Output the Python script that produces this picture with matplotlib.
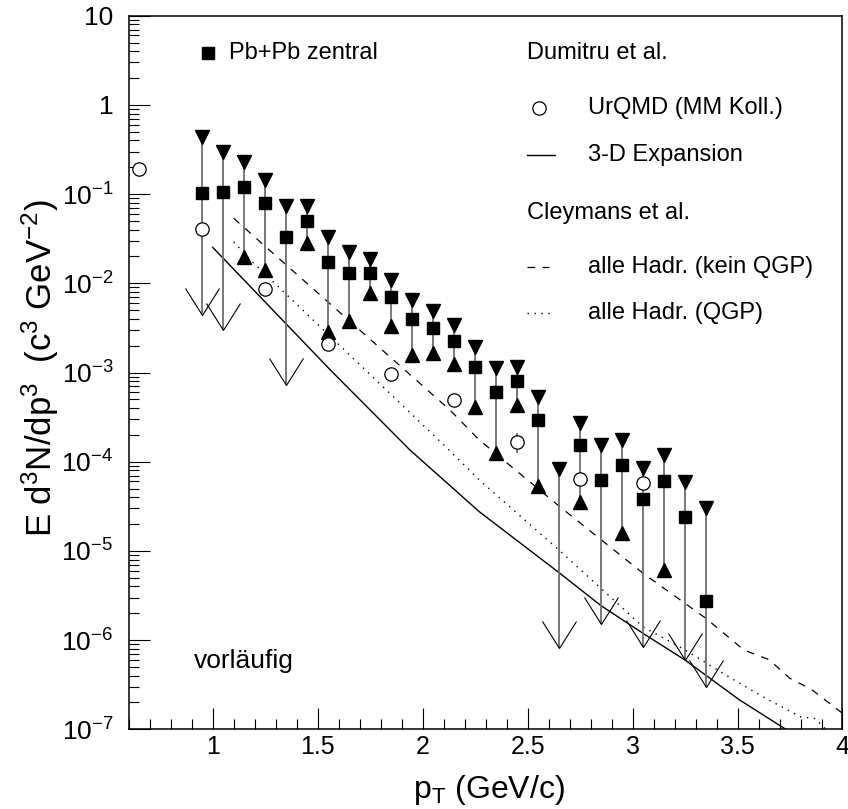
import numpy as np
import matplotlib
matplotlib.use("Agg")
import matplotlib.pyplot as plt
from matplotlib.path import Path
from matplotlib.ticker import FixedLocator, MultipleLocator, LogLocator, FuncFormatter, NullFormatter

plt.rcParams['font.family'] = ['Liberation Sans', 'DejaVu Sans']
plt.rcParams['mathtext.fontset'] = 'custom'
plt.rcParams['mathtext.rm'] = 'Liberation Sans'
plt.rcParams['mathtext.it'] = 'Liberation Sans:italic'
plt.rcParams['mathtext.bf'] = 'Liberation Sans:bold'
plt.rcParams['lines.scale_dashes'] = False

# ---- Pb+Pb central: invariant yield with upper / lower error ends ----
pt = [0.95, 1.05, 1.15, 1.25, 1.35, 1.45, 1.55, 1.65, 1.75, 1.85,
      1.95, 2.05, 2.15, 2.25, 2.35, 2.45, 2.55, 2.65, 2.75, 2.85,
      2.95, 3.05, 3.15, 3.25, 3.35]
yield_pbpb = [0.102, 0.106, 0.121, 0.079, 0.0333, 0.0503, 0.0175, 0.0129, 0.0129, 0.00708,
              0.00395, 0.00318, 0.00227, 0.00116, 6.10e-4, 8.04e-4, 2.91e-4, np.nan, 1.54e-4, 6.24e-5,
              9.18e-5, 3.82e-5, 6.08e-5, 2.42e-5, 2.74e-6]
yield_hi = [0.440, 0.299, 0.231, 0.144, 0.0736, 0.0736, 0.0328, 0.0226, 0.0186, 0.0109,
            0.00650, 0.00493, 0.00340, 0.00195, 1.11e-3, 1.16e-3, 5.36e-4, 8.22e-5, 2.74e-4, 1.54e-4,
            1.75e-4, 8.43e-5, 1.19e-4, 5.97e-5, 3.01e-5]
yield_lo = [4.42e-3, 2.99e-3, 0.0195, 0.0141, 7.24e-4, 0.0285, 2.87e-3, 3.81e-3, 7.73e-3, 3.32e-3,
            1.57e-3, 1.64e-3, 1.24e-3, 4.07e-4, 1.24e-4, 4.32e-4, 5.35e-5, 8.09e-7, 3.56e-5, 1.51e-6,
            1.57e-5, 8.43e-7, 6.11e-6, 5.98e-7, 3.01e-7]
# lower end is only a limit (drawn as an open arrow)
lo_is_limit = [True, True, False, False, True, False, False, False, False, False,
               False, False, False, False, False, False, False, True, False, True,
               False, True, False, True, True]

# ---- UrQMD (MM Koll.) ----
pt_urqmd = [0.65, 0.95, 1.25, 1.55, 1.85, 2.15, 2.45, 2.75, 3.05]
yield_urqmd = [0.190, 0.0403, 8.67e-3, 2.07e-3, 9.62e-4, 4.92e-4, 1.67e-4, 6.40e-5, 5.82e-5]
urqmd_err_pt = [2.45]
urqmd_err_lo = [1.24e-4]
urqmd_err_hi = [2.08e-4]

# ---- Dumitru et al.: 3-D expansion ----
pt_3d = [1.00, 1.18, 1.56, 1.94, 2.27, 2.65, 2.85, 3.05, 3.25, 3.51, 3.73]
yield_3d = [2.53e-2, 9.16e-3, 1.07e-3, 1.35e-4, 2.75e-5, 5.70e-6, 2.43e-6, 1.19e-6, 5.98e-7, 2.13e-7, 1.0e-7]

# ---- Cleymans et al.: all hadrons, no QGP ----
pt_noqgp = [1.10, 1.27, 2.13, 2.27, 2.65, 3.05, 3.35, 3.53, 3.65, 3.75, 3.85, 4.00]
yield_noqgp = [5.36e-2, 2.36e-2, 3.80e-4, 1.75e-4, 3.18e-5, 5.61e-6, 1.75e-6, 7.76e-7, 6.03e-7,
               3.72e-7, 2.82e-7, 1.51e-7]

# ---- Cleymans et al.: all hadrons, QGP ----
pt_qgp = [1.10, 1.18, 2.11, 2.27, 2.65, 3.05, 3.25, 3.45, 3.62, 3.72, 3.80, 3.87, 3.92]
yield_qgp = [2.92e-2, 1.82e-2, 1.47e-4, 6.24e-5, 1.02e-5, 1.41e-6, 7.76e-7, 3.98e-7, 2.32e-7,
             1.74e-7, 1.38e-7, 1.32e-7, 1.0e-7]

x_major = [1.0, 1.5, 2.0, 2.5, 3.0, 3.5, 4.0]
x_labels = ["1", "1.5", "2", "2.5", "3", "3.5", "4"]

fig = plt.figure(figsize=(8.48, 8.09), dpi=100)
ax = fig.add_axes([0.15177, 0.09852, 0.84174, 0.88207])
ax.set_yscale('log')
ax.set_xlim(0.6, 4.0)
ax.set_ylim(1e-7, 10)

# model curves
ax.plot(pt_3d, yield_3d, color='black', lw=1.0, zorder=2)
ax.plot(pt_noqgp, yield_noqgp, color='black', lw=0.9, linestyle=(0, (5.5, 5.5)), zorder=2)
ax.plot(pt_qgp, yield_qgp, color='black', lw=1.0, linestyle=(0, (1.0, 4.0)), zorder=2)

# error bars of the measurement
pt_a = np.array(pt)
ax.vlines(pt_a, yield_lo, yield_hi, color='#6e6e6e', lw=1.3, zorder=3)
ax.vlines(urqmd_err_pt, urqmd_err_lo, urqmd_err_hi, color='#6e6e6e', lw=1.3, zorder=3)

lim = np.array(lo_is_limit)
lo_a = np.array(yield_lo)
hi_a = np.array(yield_hi)

# open arrow head (tip at the anchor point)
arrow_head = Path([(-17, 27), (0, 0), (17, 27)], [Path.MOVETO, Path.LINETO, Path.LINETO])
ax.plot(pt_a[lim], lo_a[lim], linestyle='none', marker=arrow_head, markersize=38.9,
        markerfacecolor='none', markeredgecolor='black', markeredgewidth=0.8, zorder=4)
ax.plot(pt_a[~lim], lo_a[~lim], linestyle='none', marker='^', markersize=9.5,
        color='black', zorder=4)
ax.plot(pt_a, hi_a, linestyle='none', marker='v', markersize=9.5, color='black', zorder=4)
ax.plot(pt, yield_pbpb, linestyle='none', marker='s', markersize=9, color='black', zorder=5)
ax.plot(pt_urqmd, yield_urqmd, linestyle='none', marker='o', markersize=9.6,
        markerfacecolor='white', markeredgecolor='black', markeredgewidth=0.9, zorder=6)

# axes styling
for sp in ax.spines.values():
    sp.set_linewidth(1.1)
ax.xaxis.set_major_locator(FixedLocator(x_major))
ax.xaxis.set_major_formatter(FuncFormatter(lambda v, p: x_labels[x_major.index(round(v, 1))]))
ax.xaxis.set_minor_locator(MultipleLocator(0.1))
ax.yaxis.set_major_locator(LogLocator(base=10, numticks=20))
ax.yaxis.set_minor_locator(LogLocator(base=10, subs=np.arange(2, 10), numticks=20))
ax.yaxis.set_minor_formatter(NullFormatter())


def ylab(v, p):
    e = int(round(np.log10(v)))
    if e == 1:
        return "10"
    if e == 0:
        return "1"
    return r"$10^{%d}$" % e


ax.yaxis.set_major_formatter(FuncFormatter(ylab))
ax.tick_params(which='both', direction='in', top=False, right=False, width=0.8)
ax.tick_params(which='major', length=15)
ax.tick_params(which='minor', length=7.5)
ax.tick_params(axis='x', pad=4, labelsize=18)
ax.tick_params(axis='y', pad=11, labelsize=19)

fig.text(0.5767, 0.0235, r"p$_{\mathrm{T}}$ (GeV/c)", ha='center', va='center', fontsize=23)
fig.text(0.0472, 0.545, r"E d$^{3}$N/dp$^{3}$  (c$^{3}$ GeV$^{-2}$)", ha='center', va='center',
         rotation=90, fontsize=25)

# legend block
T = ax.transAxes
ax.plot([0.1117], [0.9473], marker='s', markersize=9, color='black', transform=T, clip_on=False)
ax.text(0.1401, 0.9473, "Pb+Pb zentral", transform=T, fontsize=17, va='center', ha='left')
ax.text(0.5574, 0.9473, "Dumitru et al.", transform=T, fontsize=17, va='center', ha='left')
ax.plot([0.5752], [0.8702], marker='o', markersize=9.6, markerfacecolor='white',
        markeredgecolor='black', markeredgewidth=0.9, transform=T, clip_on=False)
ax.text(0.6435, 0.8702, "UrQMD (MM Koll.)", transform=T, fontsize=17, va='center', ha='left')
ax.plot([0.5574, 0.5972], [0.8048, 0.8048], color='black', lw=1.0, transform=T)
ax.text(0.6435, 0.8048, "3-D Expansion", transform=T, fontsize=17, va='center', ha='left')
ax.text(0.5574, 0.7231, "Cleymans et al.", transform=T, fontsize=17, va='center', ha='left')
ax.plot([0.5574, 0.5884], [0.6483, 0.6483], color='black', lw=0.9, linestyle=(0, (5.5, 5.5)),
        transform=T)
ax.text(0.6435, 0.6483, "alle Hadr. (kein QGP)", transform=T, fontsize=17, va='center', ha='left')
ax.plot([0.5574, 0.5916], [0.5830, 0.5830], color='black', lw=1.0, linestyle=(0, (1.0, 4.0)),
        transform=T)
ax.text(0.6435, 0.5830, "alle Hadr. (QGP)", transform=T, fontsize=17, va='center', ha='left')

ax.text(0.0915, 0.0957, "vorläufig", transform=T, fontsize=19, va='center', ha='left')

fig.savefig("out.png", dpi=100)
